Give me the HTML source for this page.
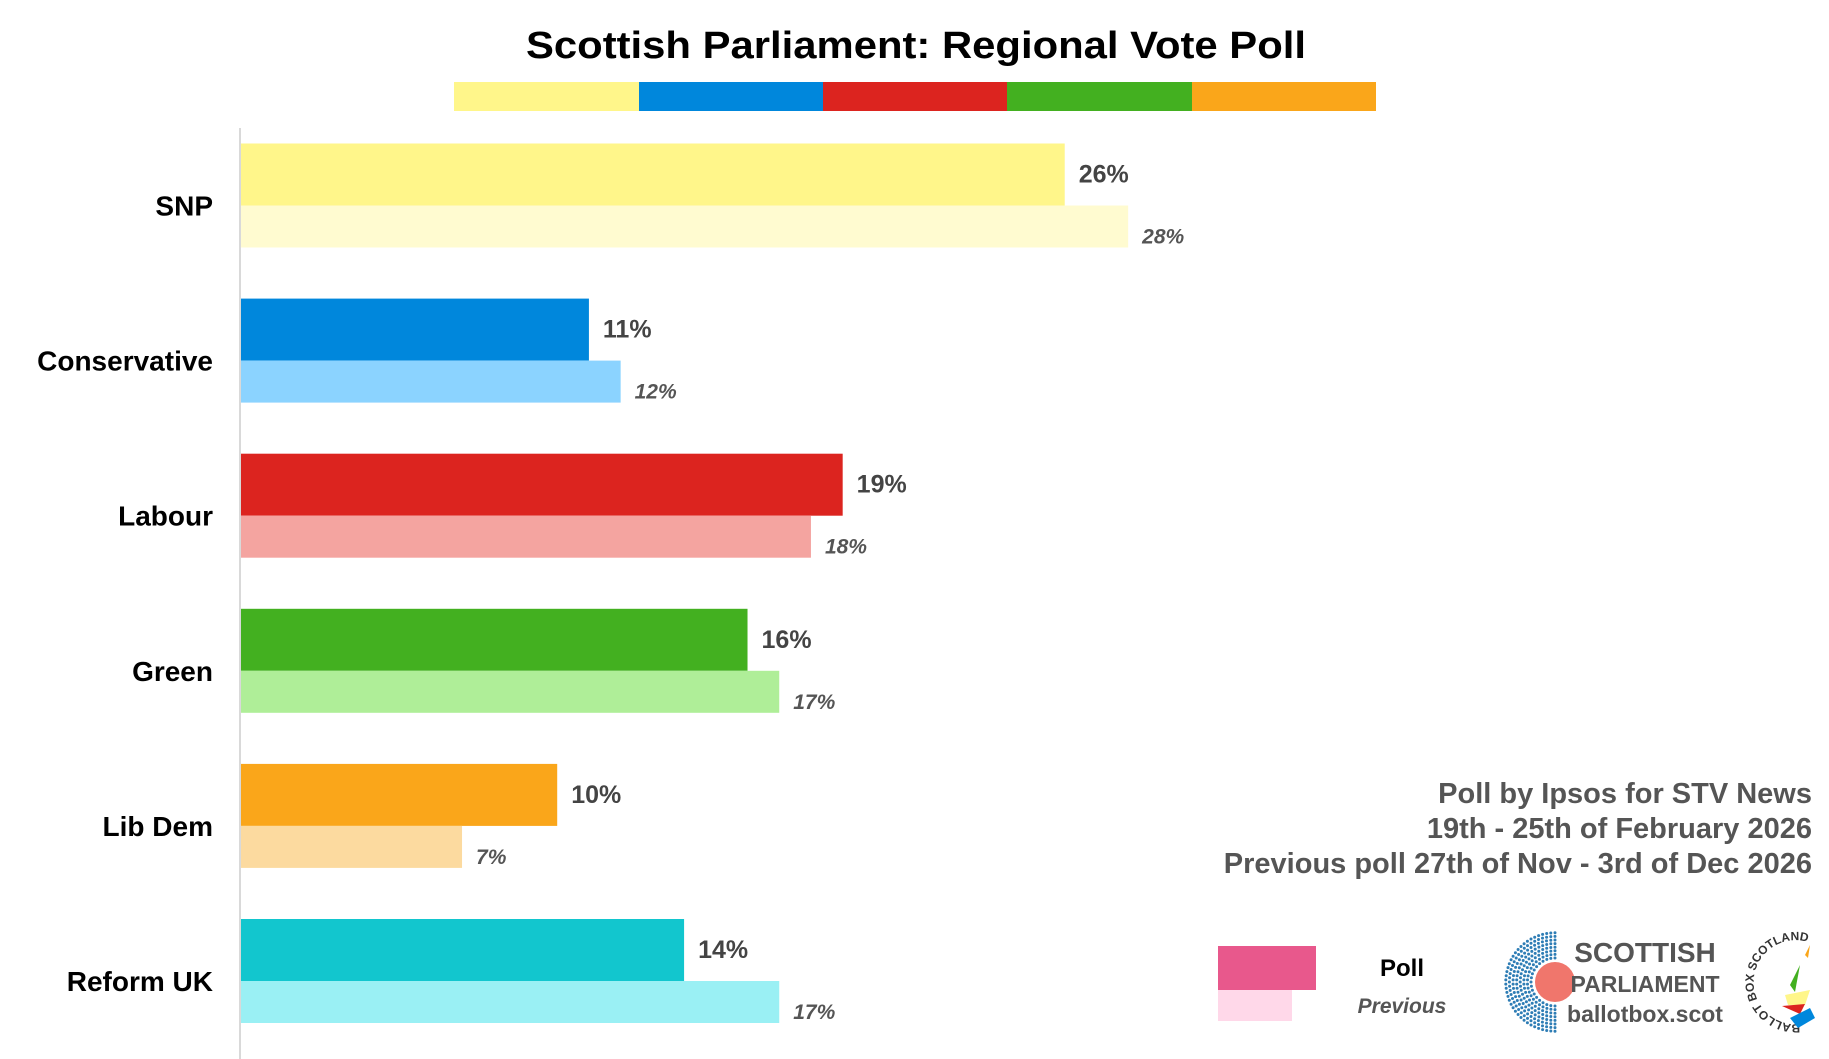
<!DOCTYPE html>
<html><head><meta charset="utf-8"><style>
body{margin:0;background:#fff;}
svg{display:block;font-family:"Liberation Sans",sans-serif;}
</style></head><body>
<svg width="1829" height="1059" viewBox="0 0 1829 1059" xmlns="http://www.w3.org/2000/svg">
<rect width="1829" height="1059" fill="#fff"/>
<text x="916" y="58" text-anchor="middle" font-size="38" font-weight="bold" fill="#000" textLength="780" lengthAdjust="spacingAndGlyphs">Scottish Parliament: Regional Vote Poll</text>
<rect x="454" y="82" width="185" height="29" fill="#FFF68A"/>
<rect x="639" y="82" width="184" height="29" fill="#0087DC"/>
<rect x="823" y="82" width="184" height="29" fill="#DC241F"/>
<rect x="1007" y="82" width="185" height="29" fill="#43B020"/>
<rect x="1192" y="82" width="184" height="29" fill="#FAA61A"/>
<line x1="240" y1="128" x2="240" y2="1059" stroke="#d9d9d9" stroke-width="2"/>
<g id="bars"></g>
<g font-weight="bold" fill="#555" font-size="29" text-anchor="end">
<text x="1812" y="803">Poll by Ipsos for STV News</text>
<text x="1812" y="838">19th - 25th of February 2026</text>
<text x="1812" y="873">Previous poll 27th of Nov - 3rd of Dec 2026</text>
</g>
<rect x="1218" y="946" width="98" height="44" fill="#E8588C"/>
<rect x="1218" y="990" width="74" height="31" fill="#FFD8E9"/>
<text x="1402" y="976" text-anchor="middle" font-size="24" font-weight="bold" fill="#000">Poll</text>
<text x="1402" y="1013" text-anchor="middle" font-size="21" font-style="italic" font-weight="bold" fill="#555">Previous</text>
<g id="dots"></g>
<circle cx="1555" cy="982" r="20" fill="#F0766C"/>
<text x="1645" y="962" text-anchor="middle" font-size="28" font-weight="bold" fill="#555">SCOTTISH</text>
<text x="1645" y="992" text-anchor="middle" font-size="23" font-weight="bold" fill="#555">PARLIAMENT</text>
<text x="1645" y="1022" text-anchor="middle" font-size="23" font-weight="bold" fill="#555">ballotbox.scot</text>
<defs><path id="arc" d="M1800,1024 A42,42 0 1,1 1820,948"/></defs>
<text font-size="12" font-weight="bold" fill="#333"><textPath href="#arc">BALLOT BOX SCOTLAND</textPath></text>
<polygon points="1790,985 1800,965 1795,992" fill="#43B020"/>
<polygon points="1785,995 1810,990 1805,1005 1788,1005" fill="#FFF68A"/>
<polygon points="1782,1006 1805,1004 1800,1014" fill="#DC241F"/>
<polygon points="1790,1018 1810,1008 1815,1018 1798,1028" fill="#0087DC"/>
<polygon points="1805,955 1810,945 1808,958" fill="#FAA61A"/>
</svg>
<script>
var d=[["SNP",26,28,"#FFF68A","#FFFBD0"],["Conservative",11,12,"#0087DC","#8BD3FF"],["Labour",19,18,"#DC241F","#F4A4A0"],["Green",16,17,"#43B020","#AFEE98"],["Lib Dem",10,7,"#FAA61A","#FCDA9F"],["Reform UK",14,17,"#12C6CE","#9AF0F4"]];
var s="",k=31.72;
d.forEach(function(r,i){var t=143.5+155.1*i;var w1=r[1]*k,w2=r[2]*k;
s+='<rect x="241" y="'+t+'" width="'+(w1-1)+'" height="62" fill="'+r[3]+'"/>';
s+='<rect x="241" y="'+(t+62)+'" width="'+(w2-1)+'" height="42" fill="'+r[4]+'"/>';
s+='<text x="213" y="'+(t+72)+'" text-anchor="end" font-size="28" font-weight="bold" fill="#000">'+r[0]+'</text>';
s+='<text x="'+(254+w1)+'" y="'+(t+39)+'" font-size="25" font-weight="bold" fill="#444">'+r[1]+'%</text>';
s+='<text x="'+(254+w2)+'" y="'+(t+100)+'" font-size="21" font-weight="bold" font-style="italic" fill="#555">'+r[2]+'%</text>';});
document.getElementById("bars").innerHTML=s;
var g="";for(var ri=0;ri<8;ri++){var R=24+ri*3.6;var n=Math.round(R*Math.PI/4.2);for(var j=0;j<=n;j++){var a=Math.PI/2+Math.PI*j/n;g+='<circle cx="'+(1555+R*Math.cos(a)).toFixed(1)+'" cy="'+(982-R*Math.sin(a)).toFixed(1)+'" r="1.5" fill="#2E7DB5"/>';}}
document.getElementById("dots").innerHTML=g;
</script>
</body></html>
